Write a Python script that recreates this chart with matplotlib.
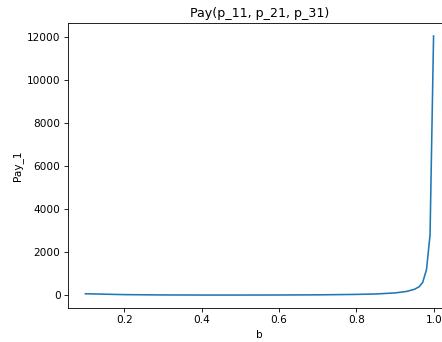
import matplotlib
matplotlib.use("Agg")
import matplotlib.pyplot as plt

b_values = [0.1, 0.2, 0.3, 0.4, 0.5, 0.6, 0.7, 0.8, 0.85, 0.9, 0.93, 0.95,
            0.962, 0.971, 0.9808, 0.9899, 0.999]
pay_values = [70, 30, 15, 10, 10, 12, 20, 40, 60, 110, 180, 280,
              400, 600, 1200, 2800, 12050]

title = "Pay(p_11, p_21, p_31)"
xlabel = "b"
ylabel = "Pay_1"

DPI = 76
fig = plt.figure(figsize=(443 / DPI, 342 / DPI), dpi=DPI)
ax = fig.add_axes([0.1535, 0.0994, 0.8645, 0.8333])
ax.plot(b_values, pay_values, color="#1f77b4", linewidth=1.5)
ax.set_title(title)
ax.set_xlabel(xlabel)
ax.set_ylabel(ylabel)
ax.set_xticks([0.2, 0.4, 0.6, 0.8, 1.0])
fig.savefig("out.png", dpi=DPI)
